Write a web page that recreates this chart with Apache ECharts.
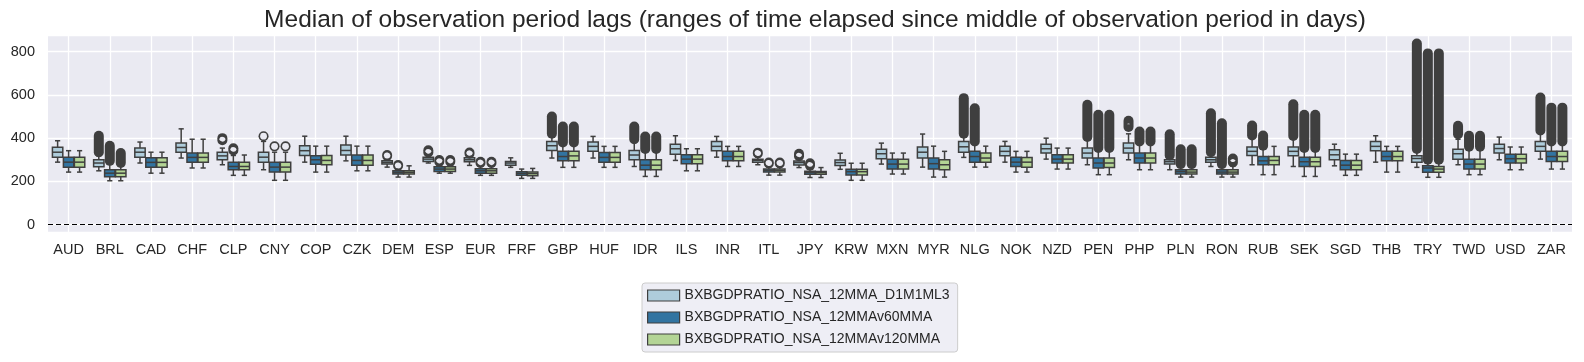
<!DOCTYPE html>
<html>
<head>
<meta charset="utf-8">
<script src="https://cdn.jsdelivr.net/npm/echarts@6/dist/echarts.min.js"></script>
<style>
html,body{margin:0;padding:0;background:#fff;}
#chart{width:1584px;height:362px;}
</style>
</head>
<body>
<div id="chart"></div>
<script>
// ---------------- data ----------------
const titleText = 'Median of observation period lags (ranges of time elapsed since middle of observation period in days)';
const categories = ['AUD','BRL','CAD','CHF','CLP','CNY','COP','CZK','DEM','ESP','EUR','FRF','GBP','HUF','IDR','ILS','INR','ITL','JPY','KRW','MXN','MYR','NLG','NOK','NZD','PEN','PHP','PLN','RON','RUB','SEK','SGD','THB','TRY','TWD','USD','ZAR'];
const seriesNames = ['BXBGDPRATIO_NSA_12MMA_D1M1ML3','BXBGDPRATIO_NSA_12MMAv60MMA','BXBGDPRATIO_NSA_12MMAv120MMA'];
const yTicks = [0, 200, 400, 600, 800];

// [lower whisker, Q1, median, Q3, upper whisker] per category
const statsD1M1ML3 = [
 [289,312,335,358,388],[249,268,285,300,318],[285,312,335,355,382],[308,335,357,377,443],
 [277,300,318,335,354],[254,289,312,335,385],[289,320,342,365,409],[295,322,343,368,409],
 [266,280,288,295,303],[285,292,303,312,318],[274,291,300,309,315],[265,275,285,292,309],
 [308,343,365,385,410],[308,339,362,382,408],[269,300,322,343,380],[297,326,351,372,411],
 [312,342,362,385,408],[277,289,297,302,312],[264,276,287,294,305],[256,274,287,299,330],
 [280,305,328,349,377],[266,308,335,359,419],[311,335,360,385,408],[289,319,339,362,385],
 [303,331,351,372,400],[277,308,331,354,395],[300,331,354,377,420],[254,280,291,300,310],
 [269,288,300,312,325],[277,320,339,359,400],[269,319,339,359,400],[272,300,323,346,372],
 [289,342,362,385,411],[265,288,306,319,340],[277,303,328,349,395],[300,331,352,372,405],
 [303,339,362,385,420]
];
const stats60MMA = [
 [243,266,289,312,342],[203,222,238,254,285],[238,266,288,309,335],[262,289,311,331,395],
 [228,254,269,288,320],[205,243,266,288,335],[243,279,300,319,363],[249,275,297,322,363],
 [220,234,242,249,257],[238,246,257,268,277],[228,238,249,259,269],[214,228,237,245,257],
 [265,295,315,339,370],[265,289,311,334,362],[223,254,275,300,340],[249,282,303,323,351],
 [269,295,315,339,362],[229,243,251,257,266],[218,233,241,247,260],[205,230,245,256,284],
 [234,257,280,303,331],[220,257,282,308,363],[266,289,315,339,370],[243,269,289,312,339],
 [257,285,303,323,354],[231,262,285,308,345],[254,285,308,331,370],[220,234,245,254,270],
 [220,234,243,254,270],[231,277,295,315,350],[223,269,291,312,345],[228,254,275,297,326],
 [243,295,315,339,362],[219,242,262,272,290],[231,257,280,303,345],[254,285,305,326,359],
 [257,292,315,339,370]
];
const stats120MMA = [
 [243,266,289,312,342],[203,222,238,254,275],[238,266,288,309,335],[262,289,311,331,395],
 [228,254,269,288,322],[205,243,266,288,335],[243,277,297,320,363],[249,275,297,322,363],
 [220,234,242,249,272],[238,246,257,268,277],[228,238,249,259,269],[214,226,236,244,260],
 [265,295,318,339,370],[265,289,311,334,362],[223,254,275,300,340],[249,282,303,323,351],
 [269,295,315,339,362],[229,243,251,257,266],[218,233,241,246,264],[205,230,245,256,284],
 [234,257,280,303,331],[220,254,277,300,339],[266,288,308,331,363],[243,266,289,311,339],
 [257,285,303,323,354],[231,264,285,308,345],[254,285,308,331,370],[220,234,243,254,270],
 [220,234,243,254,270],[231,277,297,315,362],[223,269,291,312,345],[228,254,275,297,326],
 [243,295,315,339,362],[219,242,257,269,290],[231,257,280,303,345],[254,285,305,326,359],
 [257,292,315,339,370]
];

// outliers: [category index, lowest outlier, highest outlier]
const fliersD1M1ML3 = [
 [1,335,411],[4,390,400],[5,409,409],[8,318,322],[9,334,344],[10,328,334],[12,420,500],
 [14,395,454],[17,329,333],[18,316,328],[22,420,585],[25,405,554],[26,452,480],[27,320,418],
 [28,335,515],[29,412,458],[30,410,557],[33,350,838],[34,418,457],[36,435,588]
];
const fliers60MMA = [
 [1,295,365],[4,343,353],[5,362,362],[8,272,276],[9,291,299],[10,285,291],[12,380,454],
 [14,350,408],[17,283,287],[18,273,284],[22,385,538],[25,355,508],[26,385,431],[27,280,349],
 [28,280,469],[29,365,412],[30,355,508],[33,300,792],[34,360,411],[36,385,541]
];
const fliers120MMA = [
 [1,285,331],[5,362,362],[9,291,299],[10,285,291],[12,380,454],[14,350,408],[17,283,287],
 [25,355,508],[26,385,431],[27,280,349],[28,287,306],[30,355,508],[33,300,792],[34,360,411],
 [36,385,541]
];

// ---------------- style ----------------
const colors = ['#aeccdb', '#3274a1', '#b3d495'];
const lineColor = '#3f3f3f';
const bg = '#eaeaf2';
const textColor = '#262626';
const FONT = '"Liberation Sans", Arial, sans-serif';

function boxRenderer(hue) {
  return function (params, api) {
    const cat = api.value(0);
    const band = api.size([1, 0])[0];
    const step = band * 0.8 / 3;
    const cx = api.coord([cat, 0])[0] + (hue - 1) * step;
    const w = step - 0.6;
    const yLo = api.coord([cat, api.value(1)])[1];
    const yQ1 = api.coord([cat, api.value(2)])[1];
    const yMed = api.coord([cat, api.value(3)])[1];
    const yQ3 = api.coord([cat, api.value(4)])[1];
    const yHi = api.coord([cat, api.value(5)])[1];
    const ls = { stroke: lineColor, lineWidth: 1.5 };
    return {
      type: 'group',
      children: [
        { type: 'line', shape: { x1: cx, y1: yQ3, x2: cx, y2: yHi }, style: ls },
        { type: 'line', shape: { x1: cx, y1: yQ1, x2: cx, y2: yLo }, style: ls },
        { type: 'line', shape: { x1: cx - w / 4, y1: yHi, x2: cx + w / 4, y2: yHi }, style: ls },
        { type: 'line', shape: { x1: cx - w / 4, y1: yLo, x2: cx + w / 4, y2: yLo }, style: ls },
        { type: 'rect', shape: { x: cx - w / 2, y: yQ3, width: w, height: yQ1 - yQ3 },
          style: { fill: colors[hue], stroke: lineColor, lineWidth: 1.5 } },
        { type: 'line', shape: { x1: cx - w / 2, y1: yMed, x2: cx + w / 2, y2: yMed }, style: ls }
      ]
    };
  };
}

function flierRenderer(hue) {
  const R = 5.0;      // outer radius of hollow marker
  const rho = 3.4;    // inner radius of hollow marker
  return function (params, api) {
    const cat = api.value(0);
    const band = api.size([1, 0])[0];
    const step = band * 0.8 / 3;
    const cx = api.coord([cat, 0])[0] + (hue - 1) * step;
    const yTop = api.coord([cat, api.value(2)])[1];
    const yBot = api.coord([cat, api.value(1)])[1];
    const d = yBot - yTop;
    const children = [{
      type: 'rect',
      shape: { x: cx - R, y: yTop - R, width: 2 * R, height: d + 2 * R, r: R },
      style: { fill: lineColor }
    }];
    if (d < 2 * rho) {
      const ym = (yTop + yBot) / 2;
      const hw = Math.sqrt(rho * rho - (d / 2) * (d / 2));
      const p = 'M' + (cx - hw) + ',' + ym +
        ' A' + rho + ',' + rho + ' 0 0 1 ' + (cx + hw) + ',' + ym +
        ' A' + rho + ',' + rho + ' 0 0 1 ' + (cx - hw) + ',' + ym + ' Z';
      children.push({ type: 'path', shape: { pathData: p }, style: { fill: bg } });
    }
    return { type: 'group', children: children };
  };
}

const boxStats = [statsD1M1ML3, stats60MMA, stats120MMA];
const flierSets = [fliersD1M1ML3, fliers60MMA, fliers120MMA];

const series = [];
boxStats.forEach(function (st, h) {
  const s = {
    name: seriesNames[h],
    type: 'custom',
    renderItem: boxRenderer(h),
    itemStyle: { color: colors[h], borderColor: lineColor },
    encode: { x: 0, y: [1, 2, 3, 4, 5] },
    data: st.map(function (v, i) { return [i].concat(v); }),
    z: 3
  };
  if (h === 0) {
    s.markLine = {
      silent: true, symbol: ['none', 'none'],
      label: { show: false },
      lineStyle: { color: '#000', type: [5, 3], width: 1.2 },
      data: [{ yAxis: 0 }],
      z: 2
    };
  }
  series.push(s);
});
flierSets.forEach(function (fl, h) {
  series.push({
    name: 'fliers_' + h,
    type: 'custom',
    renderItem: flierRenderer(h),
    encode: { x: 0, y: [1, 2] },
    data: fl,
    z: 4
  });
});

const chart = echarts.init(document.getElementById('chart'), null, { renderer: 'canvas' });
chart.setOption({
  animation: false,
  color: colors,
  textStyle: { fontFamily: FONT },
  title: {
    text: titleText,
    left: 810, top: 3, textAlign: 'center',
    textStyle: { fontFamily: FONT, fontSize: 24.5, fontWeight: 'normal', color: textColor }
  },
  grid: { left: 48, right: 12, top: 35, bottom: 130, show: true, backgroundColor: bg, borderWidth: 0 },
  legend: {
    data: seriesNames,
    orient: 'vertical',
    left: 642, top: 283,
    icon: 'rect',
    itemWidth: 32, itemHeight: 11, itemGap: 7, itemTextGap: 11,
    padding: [5, 8, 5, 5],
    backgroundColor: '#eeeef5',
    borderColor: '#cccccc', borderWidth: 1, borderRadius: 3,
    itemStyle: { borderColor: lineColor, borderWidth: 1.2 },
    textStyle: { fontFamily: FONT, fontSize: 14, color: textColor, lineHeight: 15 }
  },
  xAxis: {
    type: 'category',
    data: categories,
    axisLine: { show: false },
    axisTick: { show: false, alignWithLabel: true },
    axisLabel: { interval: 0, fontSize: 14.5, color: textColor, fontFamily: FONT, margin: 10 },
    splitLine: { show: true, alignWithLabel: true, lineStyle: { color: '#ffffff', width: 1.3 } }
  },
  yAxis: {
    type: 'value',
    min: -34, max: 877,
    axisLine: { show: false },
    axisTick: { show: false },
    axisLabel: {
      fontSize: 14.5, color: textColor, fontFamily: FONT, margin: 13,
      showMinLabel: false, showMaxLabel: false,
      formatter: function (v) { return yTicks.indexOf(v) >= 0 ? String(v) : ''; }
    },
    splitLine: { show: true, lineStyle: { color: '#ffffff', width: 1.3 } }
  },
  series: series
});
</script>
</body>
</html>
